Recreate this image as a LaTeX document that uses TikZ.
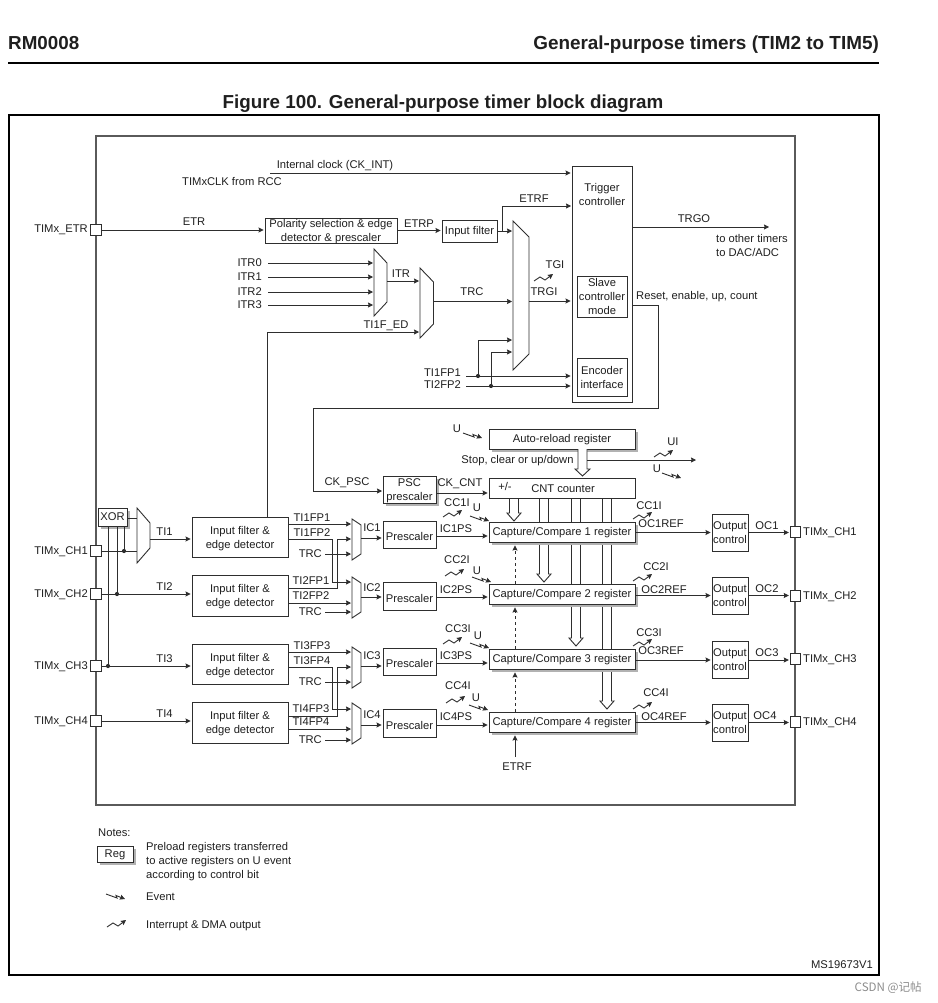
\documentclass[tikz,border=0pt]{standalone}
\usepackage{fontspec}
\setmainfont{Liberation Sans}
\newfontfamily\cjkfont{Noto Sans CJK SC}
\usetikzlibrary{%
  calc,arrows.meta,shadows,backgrounds}
\definecolor{linec}{HTML}{2E2E2E}
\definecolor{framec}{HTML}{5A5A5A}
\definecolor{ink}{HTML}{1F1F1F}
\tikzset {>={Stealth[length=5pt,width=5pt,inset=.6pt]}}
\tikzset{
  every node/.style={inner sep=0pt,text=ink,align=center,
    font=\fontsize{11.2}{14}\selectfont,
    execute at begin node={\rule[-2.4pt]{0pt}{11.5pt}}},
  bare/.style={text height=0pt,text depth=0pt},
  taller/.style={execute at begin node={\rule{0pt}{14.5pt}}},
  nudge/.style={text depth=#1},
  wire/.style={draw=linec,line width=.9pt},
  arr/.style={wire,->,shorten >=1pt},
  block/.style={draw=linec,line width=.9pt,fill=white},
  regbox/.style={block,drop shadow={shadow xshift=2.5pt,shadow yshift=-2.5pt,
    fill=black!30,opacity=1}},
  pad/.style={bare,draw=linec,line width=.9pt,fill=white,minimum size=10.5pt},
  dot/.style={bare,circle,fill=linec,minimum size=4.2pt},
  evtmark/.pic={\draw[wire,->] (0,0) -- (11,4) -- (10,1.5) -- (19,5);},
  irqmark/.pic={\draw[wire,->] (0,0) -- (6,-4) -- (11,-1) -- (19,-7);}
}
\begin{document}
\begin{tikzpicture}[x=1pt,y=-1pt]
\useasboundingbox (0,0) rectangle (937,1003);
\node[anchor=west,font=\bfseries\fontsize{18.8}{20}\selectfont] (doc) at (8,44.5) {RM0008};
\node[anchor=east,font=\bfseries\fontsize{18.9}{20}\selectfont] (chapter) at (879,44.5) {General-purpose timers (TIM2 to TIM5)};
\draw[black,line width=1.3pt] (8,63) -- (879,63);
\node[font=\bfseries\fontsize{18.8}{20}\selectfont] (title) at (443,104) {Figure 100. General-purpose timer block diagram};
\draw[black,line width=1.2pt] (9,115) rectangle (879,975);
\draw[framec,line width=1.2pt] (96,136) rectangle (795,805);

\foreach \i/\y in {1/551,2/594,3/666,4/721} {
  \node[pad] (chl\i) at (96,\y) {};
  \node[anchor=east] (chllbl\i) at (88,\y) {TIMx\_CH\i};
}
\foreach \i/\y in {1/532,2/596,3/659,4/722} {
  \node[pad] (chr\i) at (795.5,\y) {};
  \node[anchor=west] (chrlbl\i) at (803,\y) {TIMx\_CH\i};
}
\node[pad] (etrpad) at (96,230) {};
\node[anchor=east] (etrlbl) at (88,229) {TIMx\_ETR};

% trigger part
\node (clklbl) at (335,165) {Internal clock (CK\_INT)};
\node (rcclbl) at (232,182) {TIMxCLK from RCC};
\coordinate (clkstart) at (270,173);
\node[block,bare,minimum width=60pt,minimum height=236pt] (trig) at (602,284) {};
\node (triglbl) at (602,196) {Trigger\\controller};
\node[block,nudge=-4pt,minimum width=50pt,minimum height=41pt] (slave) at (602,296.5) {Slave\\controller\\mode};
\node[block,nudge=-5pt,minimum width=50pt,minimum height=38pt] (enc) at (602,377) {Encoder\\interface};
\draw[arr] (clkstart) -- (clkstart -| trig.west);
\node[block,nudge=0pt,minimum width=132pt,minimum height=25pt] (polar) at (331,230.5) {Polarity selection \& edge\\detector \& prescaler};
\node[block,minimum width=55pt,minimum height=22pt] (filt) at (469.5,231) {Input filter};
\node (etr) at (194,222) {ETR};
\node (etrp) at (419,224) {ETRP};
\node (etrf) at (534,199) {ETRF};
\draw[arr] (etrpad.east) -- (etrpad.east -| polar.west);
\draw[arr] (polar.east) -- (polar.east -| filt.west);
\coordinate (muxe) at (513,295);
\draw[wire] (513,221) -- (529,237) -- (529,354) -- (513,370) -- cycle;
\draw[arr] (filt.east) -- (filt.east -| muxe);
\coordinate (etrfb) at (502,231);
\coordinate (etrfend) at (572,206);
\draw[arr] (etrfb) |- (etrfend);
\draw[wire] (374,249) -- (387,263) -- (387,302) -- (374,316) -- cycle;
\draw[wire] (420,268) -- (433.5,282) -- (433.5,324) -- (420,338) -- cycle;
\coordinate (muxa) at (374,282);
\coordinate (muxb) at (420,300);
\foreach \i/\y in {0/263,1/277,2/292,3/305} {
  \node[anchor=east] (itr\i) at (262,\y) {ITR\i};
  \coordinate (itrs\i) at (268,\y);
  \draw[arr] (itrs\i) -- (itrs\i -| muxa);
}
\coordinate (itrout) at (387,281);
\draw[arr] (itrout) -- (itrout -| muxb);
\node (itrlbl) at (401,274) {ITR};
\coordinate (trcout) at (433.5,301.5);
\draw[arr] (trcout) -- (trcout -| muxe);
\node (trclbl) at (472,292) {TRC};
\node (edlbl) at (386,325) {TI1F\_ED};
\coordinate (edstart) at (267,517);
\coordinate (edend) at (420,332);
\draw[arr] (edstart) |- (edend);
\node[anchor=east] (fpalbl) at (461,373) {TI1FP1};
\node[anchor=east] (fpblbl) at (461,385) {TI2FP2};
\coordinate (fpa) at (466,376);
\coordinate (fpb) at (466,386);
\draw[arr] (fpa) -- (fpa -| trig.west);
\draw[arr] (fpb) -- (fpb -| trig.west);
\node[dot] (dota) at (478,376) {};
\node[dot] (dotb) at (491,386) {};
\coordinate (ina) at (513,340);
\coordinate (inb) at (513,352);
\draw[arr] (dota) |- (ina);
\draw[arr] (dotb) |- (inb);
\coordinate (trgiout) at (529,301);
\draw[arr] (trgiout) -- (trgiout -| trig.west);
\node (trgilbl) at (544,292) {TRGI};
\node (tgilbl) at (555,265) {TGI};
\pic at (534,281) {irqmark};
\coordinate (trgoout) at (632,227);
\coordinate (trgoend) at (769,227);
\draw[wire,->] (trgoout) -- (trgoend);
\node (trgolbl) at (694,219) {TRGO};
\node[anchor=west,align=left] (otherlbl) at (716,247) {to other timers\\to DAC/ADC};
\node[anchor=west] (resetlbl) at (636,296) {Reset, enable, up, count};

% counter part
\node[regbox,minimum width=146pt,minimum height=20pt] (arr) at (562,439) {Auto-reload register};
\node[regbox,nudge=-1.6pt,minimum width=53pt,minimum height=27pt] (psc) at (409.5,489.5) {PSC\\prescaler};
\node[block,bare,minimum width=146pt,minimum height=20pt] (cnt) at (562,488) {};
\node (plus) at (505,487) {+/-};
\node (cntlbl) at (563,489) {CNT counter};
\coordinate (pscin) at (383,491);
\coordinate (resetout) at (632,305);
\draw[arr] (resetout) -- (658,305) -- (658,408) -- (313,408) -- (313,491) -- (pscin);
\node (psclbl) at (347,482) {CK\_PSC};
\coordinate (cntin) at (436,493);
\draw[arr] (cntin) -- (cntin -| cnt.west);
\node (cntinlbl) at (460,483) {CK\_CNT};
\node (ua) at (457,429) {U};
\pic at (463,433) {evtmark};
\node (stoplbl) at (517.5,460) {Stop, clear or up/down};
\draw[wire,fill=white] (578,449) -- (578,469) -- (575,469) -- (582.5,476) -- (590,469) -- (587,469) -- (587,449);
\coordinate (uiout) at (587,460);
\coordinate (uiend) at (696,460);
\draw[wire,->] (uiout) -- (uiend);
\node (uilbl) at (673,442) {UI};
\pic at (654,457) {irqmark};
\node (ub) at (657,469) {U};
\pic at (662,473) {evtmark};

% capture compare registers
\foreach \i/\y in {1/532,2/594,3/659,4/722}
  \node[regbox,minimum width=146pt,minimum height=20pt] (ccr\i) at (562,\y) {Capture/Compare \i{} register};
\begin{scope}[on background layer]
\foreach \cx/\tip in {514/521,544/582,576/646,607/709}
  \draw[wire] (\cx-4.5,498) -- (\cx-4.5,\tip-8) -- (\cx-7,\tip-8) -- (\cx,\tip) -- (\cx+7,\tip-8) -- (\cx+4.5,\tip-8) -- (\cx+4.5,498);
\end{scope}
\foreach \i/\j in {2/1,3/2,4/3}
  \draw[arr,dashed,shorten >=3pt] (515,0 |- ccr\i.north) -- (515,0 |- ccr\j.south);
\coordinate (etrfup) at (515,757);
\draw[arr,shorten >=3pt] (etrfup) -- (etrfup |- ccr4.south);
\node (etrflow) at (517,767) {ETRF};

% input channels
\foreach \i/\y/\h in {1/537/40,2/595.5/41,3/664/40,4/722.5/41}
  \node[block,nudge=-1.6pt,minimum width=96pt,minimum height=\h pt] (inf\i) at (240,\y) {Input filter \&\\edge detector};
\foreach \i/\y/\s in {1/539.5/519,2/597/577,3/667/647,4/723/703} {
  \draw[wire] (352,\s) -- (361,\s+6) -- (361,\s+35) -- (352,\s+41) -- cycle;
  \coordinate (mux\i) at (352,\y);
}
\foreach \i/\y/\h/\o in {1/534.5/27/538,2/596/28/597,3/661.5/27/666,4/723/28/725} {
  \node[block,taller,minimum width=53pt,minimum height=\h pt] (pre\i) at (409.5,\y) {Prescaler};
  \coordinate (icout\i) at (361,\o);
  \draw[arr] (icout\i) -- (icout\i -| pre\i.west);
}
\foreach \i/\y/\ly/\lb in {1/536/529/528,2/597/590/588,3/663/656/656,4/725/717/715} {
  \coordinate (psout\i) at (436,\y);
  \draw[arr] (psout\i) -- (psout\i -| ccr\i.west);
  \node (pslbl\i) at (456,\ly) {IC\i PS};
  \node (iclbl\i) at (372,\lb) {IC\i};
}
\foreach \a/\b/\ya/\yb/\yc/\yd/\ye/\yf/\ta/\tb/\tc/\td in {%
  1/2/524/539/582/588/603/554/TI1FP1/TI1FP2/TI2FP1/TI2FP2,%
  3/4/652/667/709/716/729/682/TI3FP3/TI3FP4/TI4FP3/TI4FP4} {
  \coordinate (fpa\a) at (288,\ya);
  \coordinate (fpb\a) at (288,\yb);
  \coordinate (fpc\a) at (332,\yc);
  \coordinate (fpd\a) at (288,\yd);
  \coordinate (fpe\a) at (288,\ye);
  \draw[arr] (fpa\a) -- (fpa\a -| mux\a);
  \draw[arr] (fpb\a) -- (332,\yb) -- (fpc\a) -- (fpc\a -| mux\b);
  \draw[arr] (fpd\a) -- (337,\yd) -- (337,\yb) -- (337,\yb -| mux\a);
  \draw[arr] (fpe\a) -- (fpe\a -| mux\b);
  \node (tilbl\a) at (312,\ya-5.5) {\ta};
  \node (tjlbl\a) at (312,\yb-6) {\tb};
  \node (tklbl\a) at (311,\yd-7) {\tc};
  \node (tllbl\a) at (311,\ye-7) {\td};
}
\foreach \i/\y in {1/554,2/612,3/682,4/740} {
  \node[anchor=east] (trcin\i) at (322,\y) {TRC};
  \draw[arr] (trcin\i.east) ++(3,0) -- (trcin\i.east -| mux\i);
}
\foreach \x/\y/\ux/\uy/\ex/\ey/\ix/\iy/\i in {%
  457/503/477/508/470/516/443/517/1,%
  457/560/477/571/472/577/445/576/2,%
  458/629/478/636/470/643/443/644/3,%
  458/686/476/698/469/705/446/703/4} {
  \node (cclbl\i) at (\x,\y) {CC\i I};
  \node (ulbl\i) at (\ux,\uy) {U};
  \pic at (\ex,\ey) {evtmark};
  \pic at (\ix,\iy) {irqmark};
}
\node[regbox,minimum width=29pt,minimum height=18pt] (xor) at (112.5,517) {XOR};
\draw[wire] (137,508) -- (150,523) -- (150,548) -- (137,563) -- cycle;
\coordinate (muxx) at (137,535);
\coordinate (tiout) at (150,539);
\draw[arr] (tiout) -- (tiout -| inf1.west);
\coordinate (xorout) at (127,518);
\draw[wire] (xorout) -- (xorout -| muxx);
\draw[wire] (chl1.east) -- (chl1.east -| muxx);
\foreach \i in {2,3,4}
  \draw[arr] (chl\i.east) -- (chl\i.east -| inf\i.west);
\foreach \i/\x/\y in {1/124/551,2/117/594,3/108/666} {
  \node[dot] (xdot\i) at (\x,\y) {};
  \draw[wire] (\x,0 |- xor.south) -- (xdot\i);
}
\foreach \i/\y in {1/532,2/587,3/659,4/714}
  \node (tin\i) at (164.5,\y) {TI\i};

% output channels
\foreach \i/\y/\ly/\lx in {1/532.5/526/767,2/595.5/589/767,3/660/653/767,4/722.5/716/765} {
  \node[block,nudge=-4pt,minimum width=36pt,minimum height=37pt] (out\i) at (730,\y) {Output\\control};
  \draw[arr] (ccr\i.east |- out\i.west) -- (out\i.west);
  \draw[arr] (out\i.east) -- (out\i.east -| chr\i.west);
  \node (oclbl\i) at (\lx,\ly) {OC\i};
}
\foreach \i/\x/\y/\rx/\ry/\py in {%
  1/661/524/649/506/519,%
  2/664/590/656/567/581,%
  3/661/651/649/633/646,%
  4/664/717/656/693/709} {
  \node (reflbl\i) at (\x,\y) {OC\i REF};
  \node (ccrlbl\i) at (\rx,\ry) {CC\i I};
  \pic at (633,\py) {irqmark};
}

% notes
\node[anchor=west] (notes) at (98,833) {Notes:};
\node[regbox,minimum width=36pt,minimum height=16pt] (reg) at (115,854) {Reg};
\node[anchor=west,align=left] (regtxt) at (146,862) {Preload registers transferred\\to active registers on U event\\according to control bit};
\pic at (106,894) {evtmark};
\node[anchor=west] (evttxt) at (146,897) {Event};
\pic at (107,927) {irqmark};
\node[anchor=west] (irqtxt) at (146,925) {Interrupt \& DMA output};
\node[anchor=east] (ms) at (873,965.5) {MS19673V1};
\node[anchor=east,text=black!45,font=\cjkfont\fontsize{11.6}{13}\selectfont] (csdn) at (922,988) {CSDN @记帖};
\end{tikzpicture}
\end{document}
